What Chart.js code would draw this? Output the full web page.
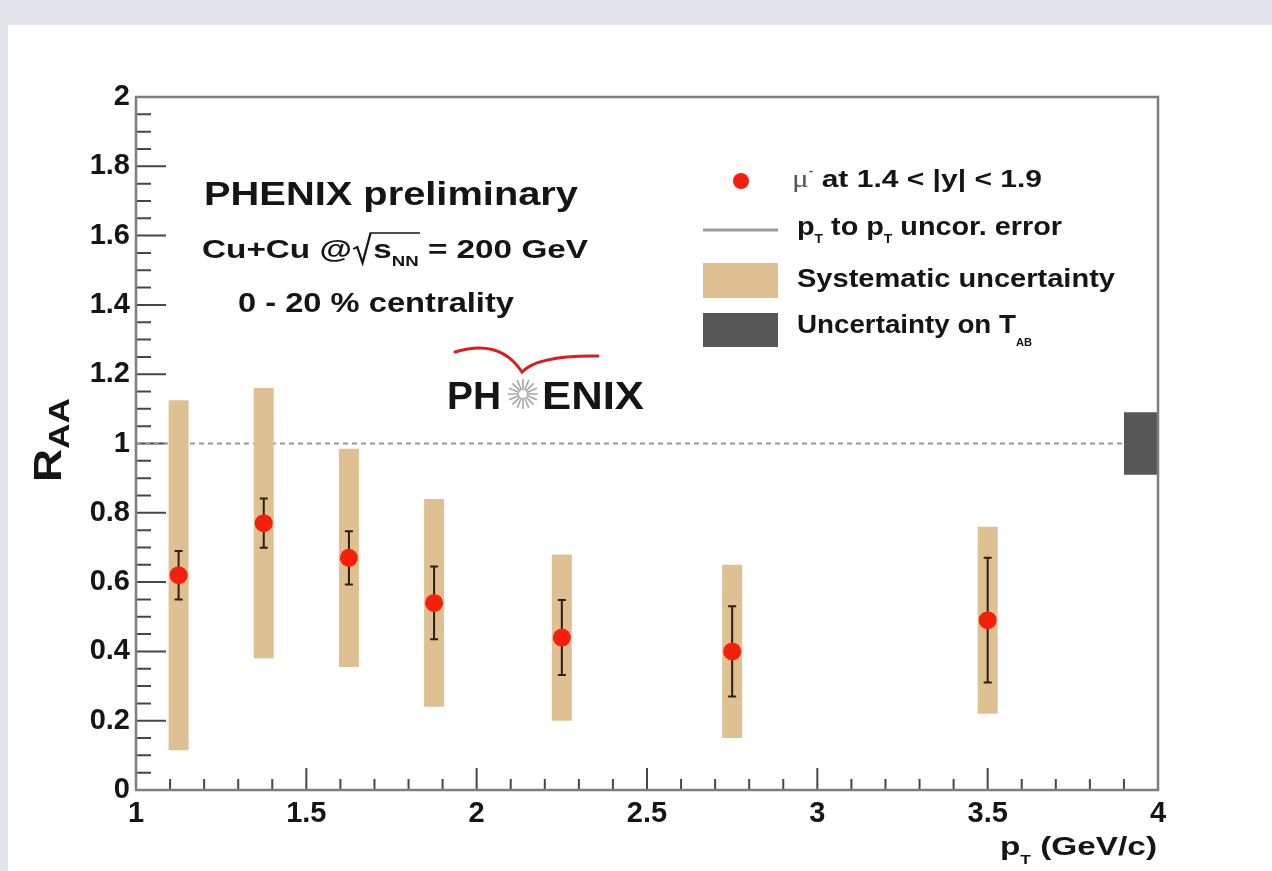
<!DOCTYPE html>
<html>
<head>
<meta charset="utf-8">
<title>Muon R_AA in Cu+Cu collisions</title>
<script src="https://cdn.jsdelivr.net/npm/chart.js@4/dist/chart.umd.min.js"></script>
<style>
  html, body { margin: 0; padding: 0; width: 1272px; height: 871px; overflow: hidden; background: #e2e5ea; }
  #frame { position: absolute; left: 8px; top: 25px; width: 1264px; height: 846px; background: #ffffff; }
  canvas { display: block; }
</style>
</head>
<body>
<div id="frame"><canvas id="raaChart" width="1264" height="846"></canvas></div>
<script>
// pT bin centres (GeV/c) and the nuclear modification factor measured in each bin
const ptCenters  = [1.125, 1.375, 1.625, 1.875, 2.25, 2.75, 3.5];
const raaValues  = [0.62, 0.77, 0.67, 0.54, 0.44, 0.40, 0.49];
// point-to-point uncorrelated (statistical) errors
const statErrors = [0.07, 0.071, 0.077, 0.105, 0.108, 0.13, 0.18];
// systematic uncertainties (half height of the boxes)
const sysErrors  = [0.505, 0.39, 0.315, 0.30, 0.24, 0.25, 0.27];
// global normalisation uncertainty on T_AB, drawn at R_AA = 1
const tabUncertainty = 0.09;
const tabPtRange = [3.9, 4.0];
const unityLevel = 1;

// axis ranges and tick labels
const xRange = [1, 4];
const yRange = [0, 2];
const xTickLabels = ['1', '1.5', '2', '2.5', '3', '3.5', '4'];
const yTickLabels = ['0', '0.2', '0.4', '0.6', '0.8', '1', '1.2', '1.4', '1.6', '1.8', '2'];

const FONT = '"Liberation Sans", Arial, Helvetica, sans-serif';
const B = (s) => `bold ${s}px ${FONT}`;
const INK = '#151515';

// Draws a run of text pieces (with sub/superscripts) and stretches it horizontally to a given width.
function drawRuns(ctx, runs, x, y, width, color) {
  ctx.save();
  let total = 0;
  for (const r of runs) {
    if (r.gap) { r.w = r.gap; }
    else { ctx.font = r.f; r.w = ctx.measureText(r.t).width; }
    total += r.w;
  }
  const sx = width ? width / total : 1;
  ctx.translate(x, y);
  ctx.scale(sx, 1);
  ctx.textAlign = 'left';
  ctx.textBaseline = 'alphabetic';
  let cx = 0;
  runs.forEach((r, i) => {
    if (r.gap) {
      if (r.rad) {
        let end = cx + r.w;
        for (let k = 1; k <= r.rad; k++) end += runs[i + k].w;
        ctx.strokeStyle = color;
        ctx.lineWidth = 1.7;
        ctx.lineJoin = 'miter';
        ctx.beginPath();
        ctx.moveTo(cx + 1, -9);
        ctx.lineTo(cx + 4, -11);
        ctx.lineTo(cx + 8, 5);
        ctx.lineTo(cx + r.w - 2, -25);
        ctx.lineTo(end + 1, -25);
        ctx.stroke();
      }
    } else {
      ctx.font = r.f;
      ctx.fillStyle = r.c || color;
      ctx.fillText(r.t, cx, r.dy || 0);
    }
    cx += r.w;
  });
  ctx.restore();
}

function minorValues(ticks, parts) {
  const out = [];
  for (let i = 0; i < ticks.length - 1; i++) {
    const a = ticks[i].value, b = ticks[i + 1].value;
    for (let k = 1; k < parts; k++) out.push(a + (b - a) * k / parts);
  }
  return out;
}

const decorPlugin = {
  id: 'phenixDecor',
  beforeDatasetsDraw(chart) {
    const { ctx, chartArea: a, scales: { x, y } } = chart;
    ctx.save();
    ctx.strokeStyle = '#474747';
    ctx.lineWidth = 2;
    ctx.beginPath();
    // ticks drawn inside the frame
    y.ticks.forEach(t => { const p = y.getPixelForValue(t.value); ctx.moveTo(a.left, p); ctx.lineTo(a.left + 30, p); });
    minorValues(y.ticks, 4).forEach(v => { const p = y.getPixelForValue(v); ctx.moveTo(a.left, p); ctx.lineTo(a.left + 15, p); });
    x.ticks.forEach(t => { const p = x.getPixelForValue(t.value); ctx.moveTo(p, a.bottom); ctx.lineTo(p, a.bottom - 22); });
    minorValues(x.ticks, 5).forEach(v => { const p = x.getPixelForValue(v); ctx.moveTo(p, a.bottom); ctx.lineTo(p, a.bottom - 11); });
    ctx.stroke();
    ctx.restore();
  },
  beforeDatasetDraw(chart, args) {
    // statistical error bars, drawn just before the markers so the markers sit on top
    if (chart.data.datasets[args.index].label !== 'raa') return;
    const { ctx, scales: { x, y } } = chart;
    ctx.save();
    ctx.strokeStyle = '#2a2012';
    ctx.lineWidth = 2;
    ctx.beginPath();
    ptCenters.forEach((pt, i) => {
      const px = x.getPixelForValue(pt);
      const top = y.getPixelForValue(raaValues[i] + statErrors[i]);
      const bot = y.getPixelForValue(raaValues[i] - statErrors[i]);
      ctx.moveTo(px, top); ctx.lineTo(px, bot);
      ctx.moveTo(px - 4, top); ctx.lineTo(px + 4, top);
      ctx.moveTo(px - 4, bot); ctx.lineTo(px + 4, bot);
    });
    ctx.stroke();
    ctx.restore();
  },
  afterDatasetsDraw(chart) {
    const { ctx, chartArea: a } = chart;
    ctx.save();
    // frame
    ctx.strokeStyle = '#7e7e7e';
    ctx.lineWidth = 2.5;
    ctx.strokeRect(a.left, a.top, a.right - a.left, a.bottom - a.top);

    // header text
    drawRuns(ctx, [{ t: 'PHENIX preliminary', f: B(33) }], 196, 180, 374, INK);
    drawRuns(ctx, [
      { t: 'Cu+Cu @', f: B(25) },
      { gap: 16, rad: 2 },
      { t: 's', f: B(25) },
      { t: 'NN', f: B(14), dy: 8 },
      { t: ' = 200 GeV', f: B(25) }
    ], 194, 233, 386, INK);
    drawRuns(ctx, [{ t: '0 - 20 % centrality', f: B(27) }], 230, 287, 276, INK);

    // legend
    ctx.fillStyle = '#f5200b';
    ctx.beginPath(); ctx.arc(733, 156, 8, 0, Math.PI * 2); ctx.fill();
    drawRuns(ctx, [
      { t: 'μ', f: `25px "Liberation Serif", serif`, c: '#555' },
      { t: '-', f: B(11), dy: -13, c: '#555' },
      { t: ' at 1.4 < |y| < 1.9', f: B(24) }
    ], 784, 162, 250, INK);

    ctx.strokeStyle = '#9c9c9c';
    ctx.lineWidth = 3;
    ctx.beginPath(); ctx.moveTo(695, 205); ctx.lineTo(770, 205); ctx.stroke();
    drawRuns(ctx, [
      { t: 'p', f: B(25) }, { t: 'T', f: B(12), dy: 8 },
      { t: ' to ', f: B(25) },
      { t: 'p', f: B(25) }, { t: 'T', f: B(12), dy: 8 },
      { t: ' uncor. error', f: B(25) }
    ], 789, 210, 265, INK);

    ctx.fillStyle = '#dfc093';
    ctx.fillRect(695, 238, 75, 35);
    drawRuns(ctx, [{ t: 'Systematic uncertainty', f: B(25) }], 789, 262, 318, INK);

    ctx.fillStyle = '#575757';
    ctx.fillRect(695, 288, 75, 34);
    drawRuns(ctx, [
      { t: 'Uncertainty on T', f: B(25) },
      { t: 'AB', f: B(10), dy: 13 }
    ], 789, 308, 235, INK);

    // PHENIX logo
    drawRuns(ctx, [{ t: 'PH', f: B(39) }], 439, 384, 54, INK);
    drawRuns(ctx, [{ t: 'ENIX', f: B(39) }], 534, 384, 102, INK);
    const cx = 515, cy = 369;
    ctx.strokeStyle = '#a8a8a8';
    ctx.lineWidth = 1.6;
    ctx.beginPath();
    for (let k = 0; k < 16; k++) {
      const ang = k * Math.PI / 8;
      ctx.moveTo(cx + Math.cos(ang) * 4, cy + Math.sin(ang) * 4);
      ctx.lineTo(cx + Math.cos(ang) * 15, cy + Math.sin(ang) * 15);
    }
    ctx.stroke();
    ctx.strokeStyle = '#d81f1f';
    ctx.lineWidth = 3;
    ctx.lineCap = 'round';
    ctx.beginPath();
    ctx.moveTo(447, 327);
    ctx.quadraticCurveTo(492, 313, 514, 347);
    ctx.quadraticCurveTo(530, 330, 590, 331);
    ctx.stroke();

    // axis titles
    drawRuns(ctx, [
      { t: 'p', f: B(25) }, { t: 'T', f: B(13), dy: 9 }, { t: ' (GeV/c)', f: B(25) }
    ], 992, 830, 157, INK);
    ctx.save();
    ctx.translate(53, 457);
    ctx.rotate(-Math.PI / 2);
    drawRuns(ctx, [{ t: 'R', f: B(39) }, { t: 'AA', f: B(30), dy: 8 }], 0, 0, 84, INK);
    ctx.restore();

    ctx.restore();
  }
};

const tickFont = { family: FONT, weight: 'bold', size: 29 };
const labelFor = (labels) => (value) => {
  const hit = labels.find(l => Math.abs(parseFloat(l) - value) < 1e-6);
  return hit === undefined ? '' : hit;
};

new Chart(document.getElementById('raaChart'), {
  type: 'scatter',
  data: {
    datasets: [
      {
        type: 'line',
        label: 'unity',
        data: [{ x: xRange[0], y: unityLevel }, { x: tabPtRange[0], y: unityLevel }],
        borderColor: '#9a9a9a',
        borderWidth: 2,
        borderDash: [5, 4],
        pointRadius: 0,
        order: 3
      },
      {
        type: 'bar',
        label: 'systematic',
        data: ptCenters.map((pt, i) => ({ x: pt, y: [raaValues[i] - sysErrors[i], raaValues[i] + sysErrors[i]] })),
        backgroundColor: '#dfc093',
        borderWidth: 0,
        grouped: false,
        maxBarThickness: 20,
        order: 2
      },
      {
        type: 'bar',
        label: 'tab',
        data: [{ x: (tabPtRange[0] + tabPtRange[1]) / 2, y: [unityLevel - tabUncertainty, unityLevel + tabUncertainty] }],
        backgroundColor: '#575757',
        borderWidth: 0,
        grouped: false,
        maxBarThickness: 34,
        order: 2
      },
      {
        type: 'scatter',
        label: 'raa',
        data: ptCenters.map((pt, i) => ({ x: pt, y: raaValues[i] })),
        pointRadius: 9,
        pointBackgroundColor: '#f5200b',
        pointBorderWidth: 0,
        order: 0
      }
    ]
  },
  options: {
    responsive: false,
    animation: false,
    events: [],
    layout: { padding: { top: 72, right: 114, left: 0, bottom: 0 } },
    plugins: { legend: { display: false }, tooltip: { enabled: false } },
    scales: {
      x: {
        type: 'linear',
        min: xRange[0],
        max: xRange[1],
        offset: false,
        grid: { display: false, drawTicks: false },
        border: { display: false },
        ticks: { stepSize: 0.5, padding: 7, font: tickFont, color: INK, maxRotation: 0, autoSkip: false, callback: labelFor(xTickLabels) },
        afterFit(scale) { scale.height = 81; }
      },
      y: {
        type: 'linear',
        min: yRange[0],
        max: yRange[1],
        grid: { display: false, drawTicks: false },
        border: { display: false },
        ticks: { stepSize: 0.2, padding: 6, font: tickFont, color: INK, autoSkip: false, callback: labelFor(yTickLabels) },
        afterFit(scale) { scale.width = 128; }
      }
    }
  },
  plugins: [decorPlugin]
});
</script>
</body>
</html>
